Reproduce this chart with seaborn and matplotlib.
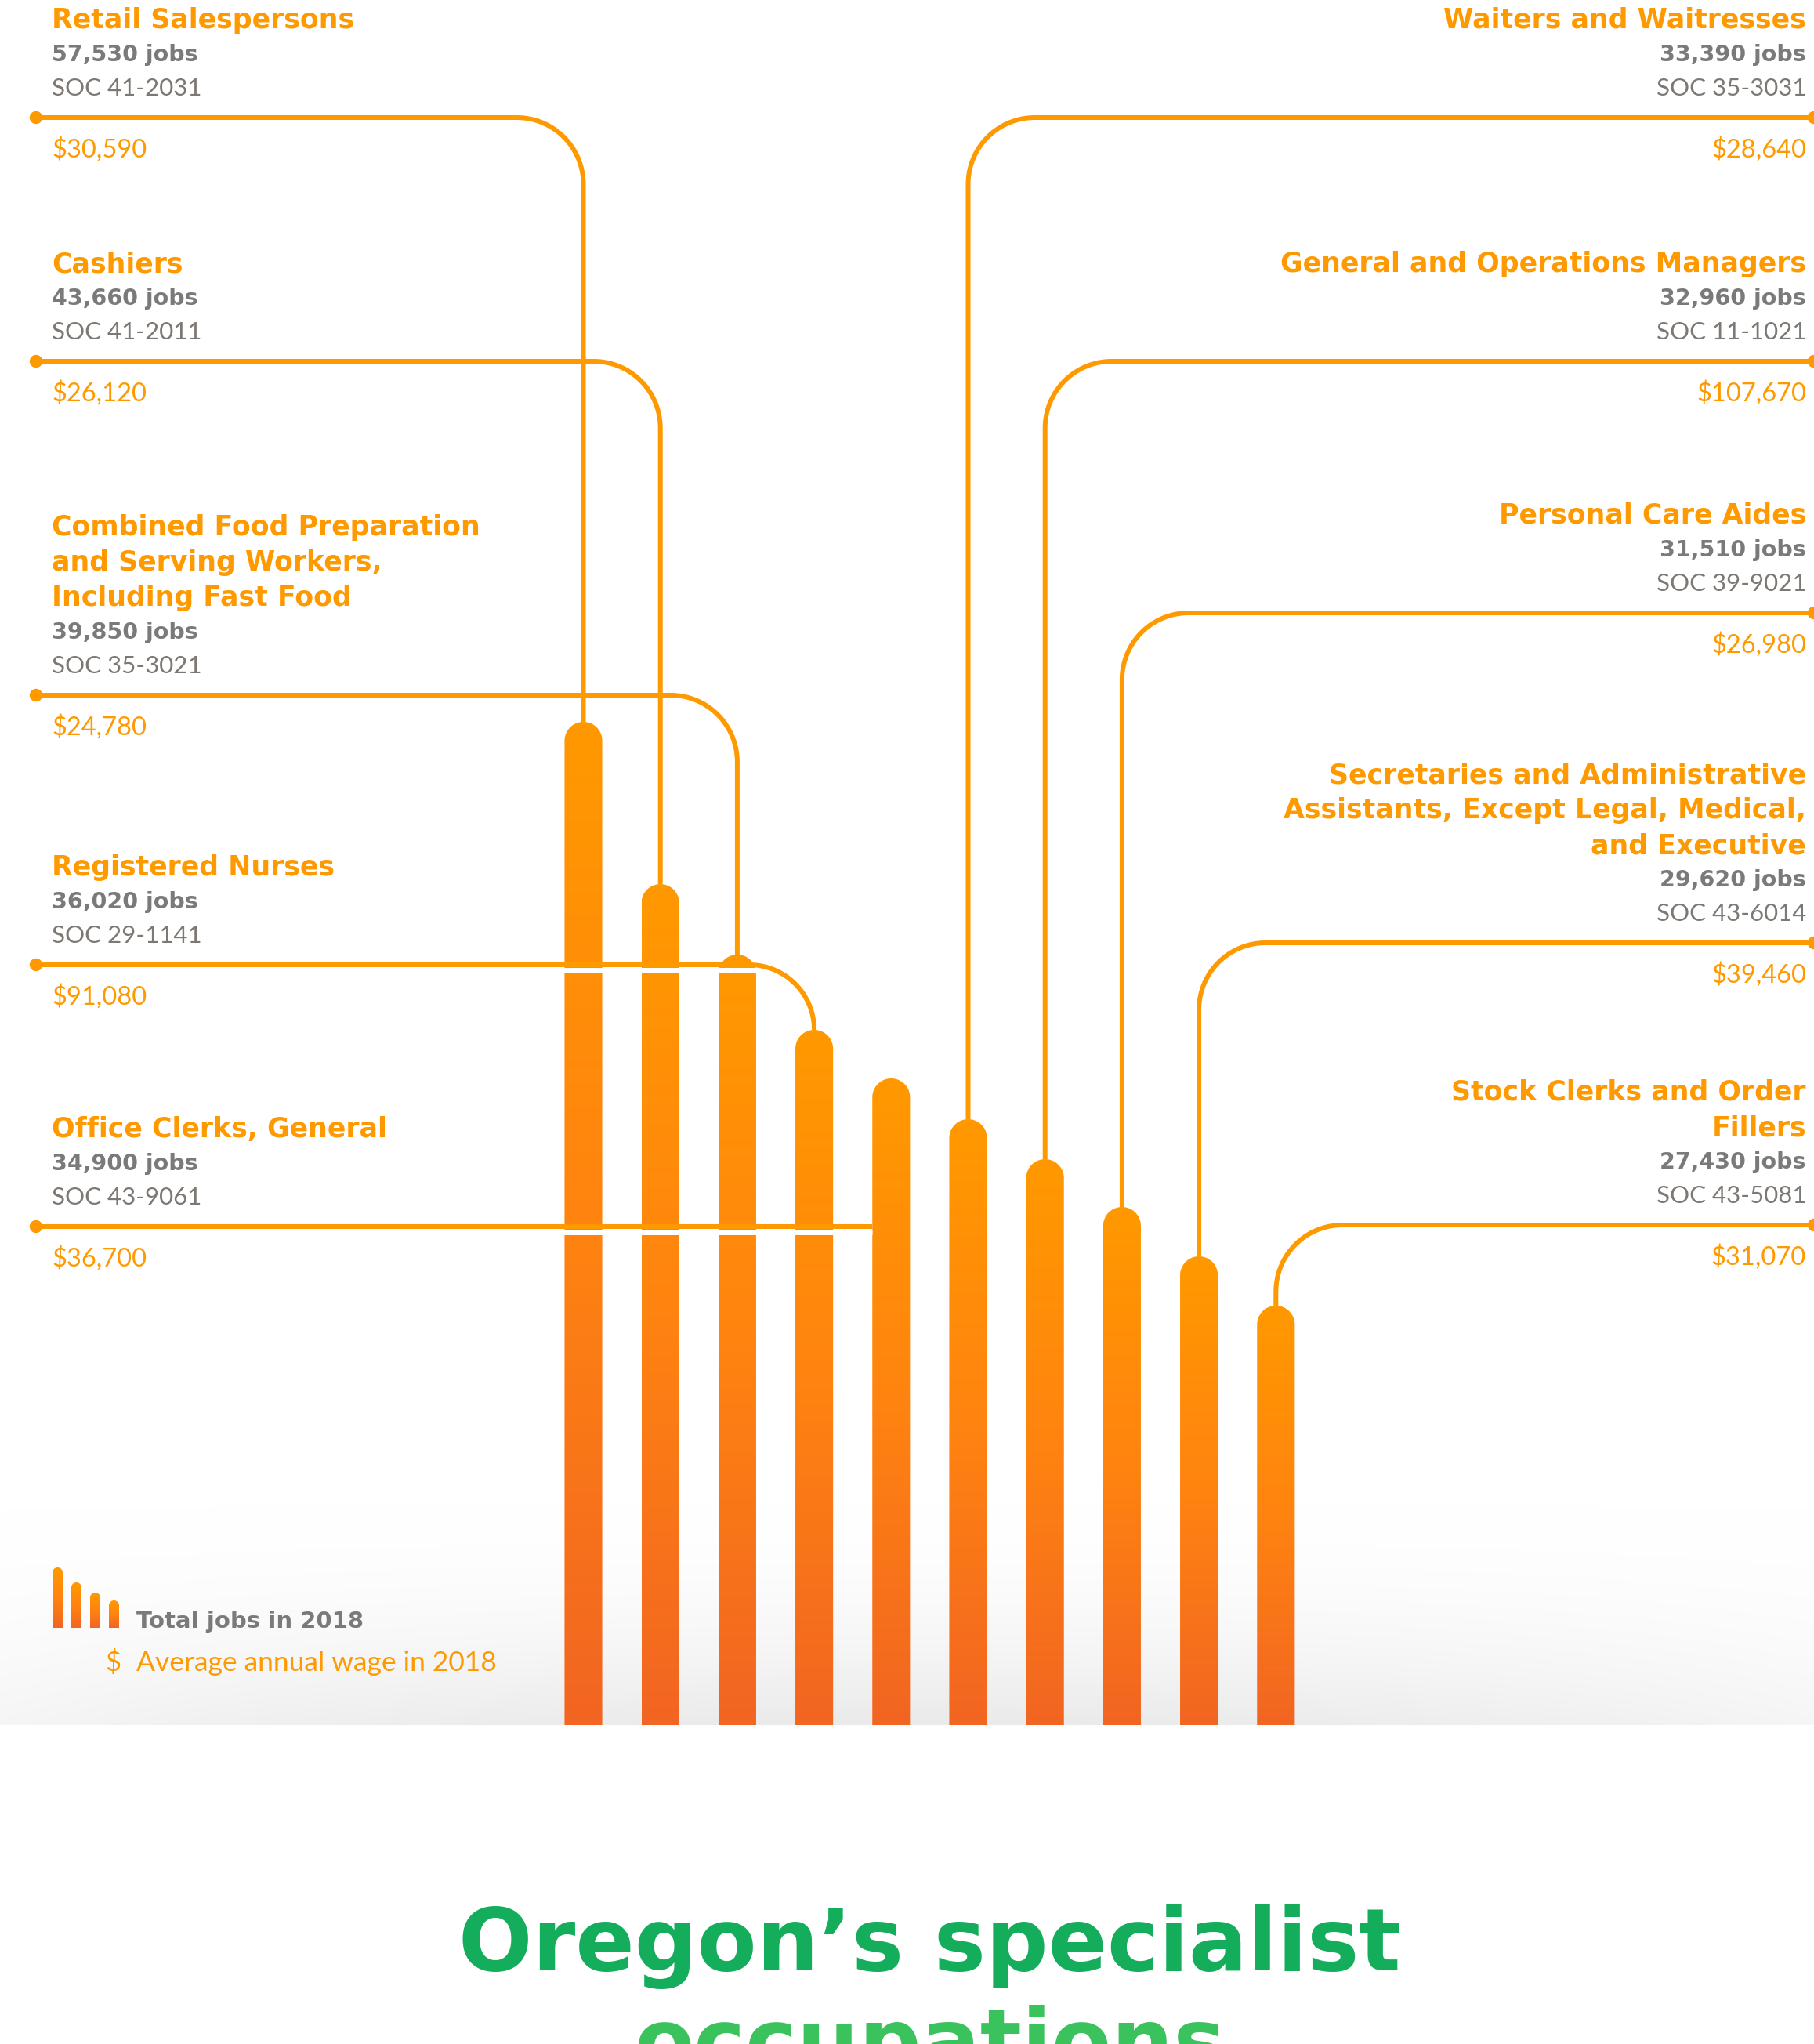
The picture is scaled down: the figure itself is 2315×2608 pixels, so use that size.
import matplotlib
matplotlib.use("Agg")
import matplotlib.pyplot as plt
import numpy as np
import pandas as pd
import seaborn as sns
from matplotlib.colors import LinearSegmentedColormap
from matplotlib.patches import Circle, PathPatch
from matplotlib.path import Path as MPath

titles = [
    "Retail Salespersons",
    "Cashiers",
    "Combined Food Preparation\nand Serving Workers,\nIncluding Fast Food",
    "Registered Nurses",
    "Office Clerks, General",
    "Waiters and Waitresses",
    "General and Operations Managers",
    "Personal Care Aides",
    "Secretaries and Administrative\nAssistants, Except Legal, Medical,\nand Executive",
    "Stock Clerks and Order\nFillers",
]
jobs = [57530, 43660, 39850, 36020, 34900, 33390, 32960, 31510, 29620, 27430]
soc_codes = ["41-2031", "41-2011", "35-3021", "29-1141", "43-9061",
             "35-3031", "11-1021", "39-9021", "43-6014", "43-5081"]
wages = [30590, 26120, 24780, 91080, 36700, 28640, 107670, 26980, 39460, 31070]
# bar lengths as drawn (the graphic ranks the bars, it is not to scale with jobs)
bar_len = [1280, 1073, 983, 887, 825, 773, 722, 661, 598, 535]
legend_bar_len = [77, 58, 45, 35]

# ---- layout (pixels of the 2315 x 2608 canvas, y down) ----
W, H = 2315, 2608
BASE = 2201
side = ["left"] * 5 + ["right"] * 5
leader_y = [150, 461, 887, 1231, 1565, 150, 461, 782, 1203, 1563]

ORANGE = "#FF9900"
ORANGE_DARK = "#F26522"
GRAY = "#7A7A7A"
GRAY_SOC = "#7D7873"
GREEN = "#13AD5B"
GREEN_LIGHT = "#3AC25C"
LW = 6 * 0.72
BOLD = ["DejaVu Sans"]
LIGHT = ["Lato", "DejaVu Sans"]

bar_cmap = LinearSegmentedColormap.from_list("bar", [ORANGE, "#FF8410", ORANGE_DARK])
bg_cmap = LinearSegmentedColormap.from_list("bg", ["#FFFFFF", "#EAEAEA"])


def rounded_bar(ax, x0, x1, top, bottom, z=2):
    r = (x1 - x0) / 2
    xc = (x0 + x1) / 2
    a = np.linspace(np.pi, 0, 40)
    verts = [(x0, bottom), (x0, top + r)]
    verts += list(zip(xc + r * np.cos(a), top + r - r * np.sin(a)))
    verts += [(x1, top + r), (x1, bottom), (x0, bottom)]
    codes = [MPath.MOVETO] + [MPath.LINETO] * (len(verts) - 2) + [MPath.CLOSEPOLY]
    patch = PathPatch(MPath(verts, codes), facecolor="none", edgecolor="none")
    ax.add_patch(patch)
    grad = np.linspace(0, 1, 256).reshape(-1, 1)
    img = ax.imshow(grad, extent=(x0, x1, bottom, top), cmap=bar_cmap,
                    aspect="auto", origin="upper", zorder=z, interpolation="bilinear")
    img.set_clip_path(patch)


def leader(ax, y, xc, ytop, half_w, where, r=85):
    if where == "left":
        x_dot, sgn = 46, 1
    else:
        x_dot, sgn = W, -1
    if ytop < y:
        # bar already reaches this height: run straight into its side
        x_end = xc - sgn * half_w
        xs, ys = [x_dot, x_end], [y, y]
        gap_end = x_end
    else:
        r = min(r, ytop - y)
        t = np.linspace(0, np.pi / 2, 30)
        cx, cy = xc - sgn * r, y + r
        xs = [x_dot] + list(cx + sgn * r * np.sin(t)) + [xc]
        ys = [y] + list(cy - r * np.cos(t)) + [ytop]
        gap_end = xc - sgn * (r - 12)
    if where == "left":
        ax.plot([x_dot, gap_end], [y + 6.5, y + 6.5], color="white",
                lw=7 * 0.72, solid_capstyle="butt", zorder=3)
    ax.plot(xs, ys, color=ORANGE, lw=LW, solid_capstyle="butt",
            solid_joinstyle="round", zorder=4)
    ax.add_patch(Circle((x_dot, y), 7.5, color=ORANGE, zorder=5, clip_on=False))


sns.set_theme(style="white")
plt.rcParams["font.family"] = ["DejaVu Sans"]

fig = plt.figure(figsize=(W / 100, H / 100), dpi=100, facecolor="white")

# bars placed by seaborn on their own axes
step, first_center = 98.2, 744.5
bar_ax = fig.add_axes([(first_center - step / 2) / W, (H - BASE) / H, step * 10 / W, 1300 / H])
df = pd.DataFrame({"occupation": [t.split("\n")[0] for t in titles], "length": bar_len})
sns.barplot(data=df, x="occupation", y="length", color=ORANGE, width=0.49, ax=bar_ax)
bar_ax.set_xlim(-0.5, 9.5)
bar_ax.set_ylim(0, 1300)
bar_ax.axis("off")

# overlay in canvas pixels
ov = fig.add_axes([0, 0, 1, 1], zorder=5)
ov.set_xlim(0, W)
ov.set_ylim(H, 0)
ov.axis("off")
ov.patch.set_alpha(0)

# soft grey floor behind the bars
gx, gy = np.meshgrid(np.linspace(-1, 1, 300), np.linspace(0, 1, 120))
shade = gy ** 2 * (1 - 0.55 * gx ** 2)
ov.imshow(shade, extent=(0, W, BASE, 1900), cmap=bg_cmap, vmin=0, vmax=1,
          aspect="auto", origin="upper", zorder=0)

bar_geo = []
for p in bar_ax.patches:
    (x0, y0), (x1, y1) = bar_ax.transData.transform(
        [(p.get_x(), 0), (p.get_x() + p.get_width(), p.get_height())])
    p.set_visible(False)
    top, bottom = H - y1, H - y0
    rounded_bar(ov, x0, x1, top, bottom)
    bar_geo.append(((x0 + x1) / 2, top, (x1 - x0) / 2))

for i in range(len(titles)):
    xc, top, half_w = bar_geo[i]
    leader(ov, leader_y[i], xc, top, half_w, side[i])

    y = leader_y[i]
    if side[i] == "left":
        tx, ha = 66, "left"
    else:
        tx, ha = 2305, "right"
    ov.text(tx, y + 51, f"${wages[i]:,}", ha=ha, va="baseline", fontsize=23.5,
            color=ORANGE, family=LIGHT, fontweight="normal", zorder=6)
    ov.text(tx, y - 28, f"SOC {soc_codes[i]}", ha=ha, va="baseline", fontsize=22.5,
            color=GRAY_SOC, family=LIGHT, fontweight="normal", zorder=6)
    ov.text(tx, y - 72, f"{jobs[i]:,} jobs", ha=ha, va="baseline", fontsize=20.5,
            color=GRAY, family=BOLD, fontweight="bold", zorder=6)
    for k, line in enumerate(reversed(titles[i].split("\n"))):
        ov.text(tx, y - 114 - 45 * k, line, ha=ha, va="baseline", fontsize=25,
                color=ORANGE, family=BOLD, fontweight="bold", zorder=6)

# legend
for k, ln in enumerate(legend_bar_len):
    cx = 73.5 + 24 * k
    rounded_bar(ov, cx - 6.5, cx + 6.5, 2077 - ln, 2077, z=2)
ov.text(174, 2077, "Total jobs in 2018", ha="left", va="baseline", fontsize=21,
        color=GRAY, family=BOLD, fontweight="bold")
ov.text(134, 2132, "$", ha="left", va="baseline", fontsize=25, color=ORANGE,
        family=LIGHT, fontweight="normal")
ov.text(174, 2132, "Average annual wage in 2018", ha="left", va="baseline",
        fontsize=25.5, color=ORANGE, family=LIGHT, fontweight="normal")

# headline, cut off by the bottom edge as in the source
ov.text(1186, 2514, "Oregon\u2019s specialist", ha="center", va="baseline",
        fontsize=80, color=GREEN, family=BOLD, fontweight="bold")
ov.text(1186, 2642, "occupations", ha="center", va="baseline",
        fontsize=80, color=GREEN_LIGHT, family=BOLD, fontweight="bold")

fig.savefig("out.png", dpi=100, facecolor="white")
plt.close(fig)
